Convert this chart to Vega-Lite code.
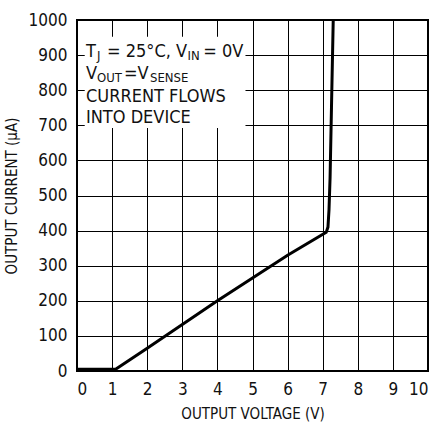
{
  "$schema": "https://vega.github.io/schema/vega-lite/v6.json",
  "width": 351,
  "height": 351,
  "autosize": "none",
  "padding": {"left": 77, "top": 20, "right": 12, "bottom": 53},
  "background": "white",
  "config": {
    "font": "DejaVu Sans Condensed, Roboto",
    "view": {"stroke": "black", "strokeWidth": 2},
    "axis": {
      "labelFont": "DejaVu Sans Condensed, Roboto",
      "titleFont": "DejaVu Sans Condensed, Roboto",
      "labelColor": "#111",
      "titleColor": "#111",
      "labelFontSize": 17,
      "titleFontSize": 15,
      "titleFontWeight": "normal",
      "grid": true,
      "gridColor": "black",
      "gridWidth": 1,
      "gridOpacity": 1,
      "domain": false,
      "ticks": false,
      "labelOverlap": false
    }
  },
  "datasets": {
    "curve": [
      {"x": 0, "y": 5},
      {"x": 1.1, "y": 5},
      {"x": 2, "y": 65},
      {"x": 4, "y": 200},
      {"x": 6, "y": 330},
      {"x": 7.1, "y": 395},
      {"x": 7.15, "y": 410},
      {"x": 7.18, "y": 460},
      {"x": 7.21, "y": 550},
      {"x": 7.25, "y": 750},
      {"x": 7.3, "y": 1000}
    ],
    "box": [{"x": 0.22, "x2": 4.8, "y": 692, "y2": 952}],
    "notes": [
      {"x": 0.256, "y": 894.6, "t": "T", "k": "main"},
      {"x": 0.57, "y": 894.6, "t": "J", "k": "sub"},
      {"x": 0.855, "y": 894.6, "t": "= 25°C, V", "k": "main"},
      {"x": 3.15, "y": 894.6, "t": "IN", "k": "sub"},
      {"x": 3.6, "y": 894.6, "t": "= 0V", "k": "main"},
      {"x": 0.256, "y": 832, "t": "V", "k": "main"},
      {"x": 0.57, "y": 832, "t": "OUT", "k": "sub"},
      {"x": 1.34, "y": 832, "t": "=V", "k": "main"},
      {"x": 2.08, "y": 832, "t": "SENSE", "k": "sub"},
      {"x": 0.256, "y": 766, "t": "CURRENT FLOWS", "k": "main"},
      {"x": 0.256, "y": 706.5, "t": "INTO DEVICE", "k": "main"}
    ]
  },
  "encoding": {
    "x": {"field": "x", "type": "quantitative", "scale": {"domain": [0, 10], "nice": false},
          "axis": {"values": [0,1,2,3,4,5,6,7,8,9,10], "format": "d", "title": "OUTPUT VOLTAGE (V)", "labelPadding": 10, "titlePadding": 9}},
    "y": {"field": "y", "type": "quantitative", "scale": {"domain": [0, 1000], "nice": false},
          "axis": {"values": [0,100,200,300,400,500,600,700,800,900,1000], "format": "d", "title": "OUTPUT CURRENT (µA)", "labelPadding": 10, "titlePadding": 9}}
  },
  "layer": [
    {
      "data": {"name": "box"},
      "mark": {"type": "rect", "fill": "white", "stroke": null},
      "encoding": {
        "x2": {"field": "x2"},
        "y2": {"field": "y2"}
      }
    },
    {
      "data": {"name": "curve"},
      "mark": {"type": "line", "color": "black", "strokeWidth": 3, "clip": true},
      "encoding": {
        "order": {"field": "y", "type": "quantitative"}
      }
    },
    {
      "data": {"name": "notes"},
      "transform": [{"filter": "datum.k === 'main'"}],
      "mark": {"type": "text", "align": "left", "baseline": "alphabetic", "fontSize": 18, "color": "#111"},
      "encoding": {
        "text": {"field": "t"}
      }
    },
    {
      "data": {"name": "notes"},
      "transform": [{"filter": "datum.k === 'sub'"}],
      "mark": {"type": "text", "align": "left", "baseline": "alphabetic", "fontSize": 13, "dy": 3, "color": "#111"},
      "encoding": {
        "text": {"field": "t"}
      }
    }
  ]
}
